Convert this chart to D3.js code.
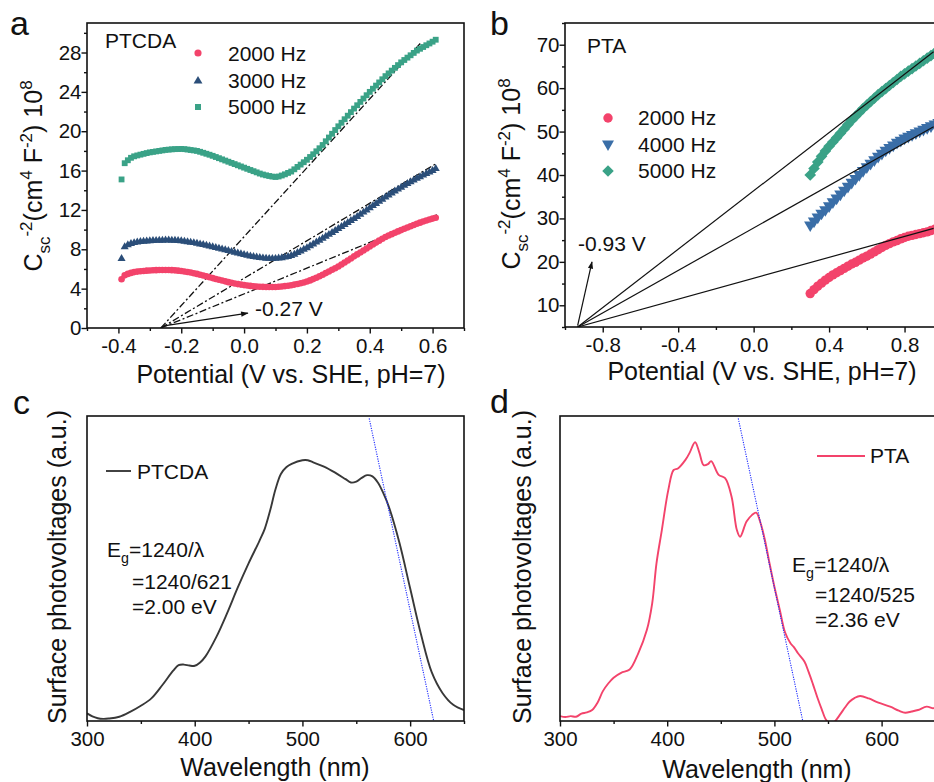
<!DOCTYPE html>
<html>
<head>
<meta charset="utf-8">
<script src="https://cdn.jsdelivr.net/npm/d3@7/dist/d3.min.js"></script>
<style>
  body { margin: 0; background: #fff; }
  svg { display: block; }
</style>
</head>
<body>
<svg id="chart" width="934" height="782"></svg>
<script>
// ── data: panel a (PTCDA Mott-Schottky) ────────────────────────────────
var potentialA = [-0.39,-0.38,-0.37,-0.36,-0.35,-0.34,-0.33,-0.32,-0.31,-0.30,
  -0.29,-0.28,-0.27,-0.26,-0.25,-0.24,-0.23,-0.22,-0.21,-0.20,
  -0.19,-0.18,-0.17,-0.16,-0.15,-0.14,-0.13,-0.12,-0.11,-0.10,
  -0.09,-0.08,-0.07,-0.06,-0.05,-0.04,-0.03,-0.02,-0.01,0.00,
  0.01,0.02,0.03,0.04,0.05,0.06,0.07,0.08,0.09,0.10,
  0.11,0.12,0.13,0.14,0.15,0.16,0.17,0.18,0.19,0.20,
  0.21,0.22,0.23,0.24,0.25,0.26,0.27,0.28,0.29,0.30,
  0.31,0.32,0.33,0.34,0.35,0.36,0.37,0.38,0.39,0.40,
  0.41,0.42,0.43,0.44,0.45,0.46,0.47,0.48,0.49,0.50,
  0.51,0.52,0.53,0.54,0.55,0.56,0.57,0.58,0.59,0.60,0.61];
var ptcda2000 = [4.95,5.35,5.50,5.60,5.68,5.73,5.77,5.80,5.83,5.85,
  5.87,5.88,5.89,5.90,5.90,5.89,5.88,5.86,5.83,5.80,
  5.75,5.70,5.64,5.57,5.50,5.42,5.34,5.25,5.16,5.07,
  4.98,4.90,4.82,4.74,4.66,4.59,4.52,4.46,4.41,4.36,
  4.32,4.28,4.25,4.22,4.20,4.18,4.17,4.16,4.16,4.17,
  4.19,4.22,4.26,4.30,4.35,4.41,4.48,4.55,4.63,4.72,
  4.84,4.97,5.11,5.26,5.42,5.58,5.75,5.92,6.08,6.25,
  6.45,6.65,6.86,7.07,7.28,7.48,7.68,7.88,8.08,8.28,
  8.48,8.68,8.88,9.07,9.25,9.40,9.54,9.68,9.82,9.95,
  10.08,10.21,10.34,10.47,10.60,10.71,10.82,10.92,11.02,11.12,11.20];
var ptcda3000 = [7.05,8.25,8.45,8.58,8.66,8.72,8.77,8.80,8.83,8.85,
  8.87,8.89,8.90,8.91,8.92,8.92,8.91,8.90,8.88,8.85,
  8.81,8.76,8.71,8.66,8.60,8.53,8.46,8.39,8.32,8.25,
  8.17,8.09,8.01,7.93,7.85,7.77,7.69,7.61,7.53,7.45,
  7.38,7.31,7.25,7.20,7.15,7.11,7.08,7.06,7.05,7.06,
  7.09,7.13,7.19,7.26,7.35,7.49,7.65,7.81,7.98,8.15,
  8.34,8.53,8.72,8.91,9.10,9.30,9.50,9.70,9.90,10.10,
  10.30,10.50,10.70,10.90,11.10,11.32,11.54,11.76,11.98,12.20,
  12.42,12.64,12.86,13.08,13.30,13.50,13.70,13.90,14.10,14.30,
  14.48,14.66,14.84,15.02,15.20,15.36,15.52,15.68,15.84,16.00,16.20];
var ptcda5000 = [15.10,16.75,17.05,17.30,17.45,17.54,17.62,17.70,17.78,17.85,
  17.90,17.95,18.00,18.05,18.10,18.13,18.16,18.18,18.19,18.20,
  18.18,18.14,18.09,18.05,18.00,17.91,17.81,17.71,17.61,17.50,
  17.38,17.26,17.14,17.02,16.90,16.78,16.66,16.54,16.42,16.30,
  16.18,16.06,15.94,15.82,15.70,15.60,15.52,15.45,15.39,15.35,
  15.40,15.50,15.62,15.76,15.90,16.13,16.37,16.61,16.85,17.10,
  17.38,17.66,17.96,18.27,18.60,18.98,19.36,19.74,20.12,20.50,
  20.86,21.22,21.58,21.94,22.30,22.64,22.98,23.32,23.66,24.00,
  24.32,24.64,24.96,25.28,25.60,25.88,26.16,26.44,26.72,27.00,
  27.24,27.48,27.72,27.96,28.20,28.38,28.56,28.74,28.92,29.10,29.30];
var fbA = -0.265;                                   // flat-band intercept
var fitEndA = [[0.566, 29.1], [0.614, 16.76], [0.614, 11.5]];

// ── data: panel b (PTA Mott-Schottky) ──────────────────────────────────
var potentialB = [0.30,0.32,0.34,0.36,0.38,0.40,0.42,0.44,0.46,0.48,
  0.50,0.52,0.54,0.56,0.58,0.60,0.62,0.64,0.66,0.68,
  0.70,0.72,0.74,0.76,0.78,0.80,0.82,0.84,0.86,0.88,
  0.90,0.92,0.94,0.96,0.98];
var pta2000 = [12.7,13.6,14.4,15.1,15.8,16.4,17.0,17.5,18.0,18.5,
  19.0,19.5,19.9,20.4,20.9,21.3,21.8,22.3,22.8,23.3,
  23.8,24.2,24.6,24.9,25.3,25.6,25.9,26.1,26.3,26.5,
  26.7,26.9,27.2,27.5,27.8];
var pta4000 = [28.5,29.4,30.3,31.2,32.0,32.9,33.8,34.7,35.6,36.5,
  37.4,38.3,39.2,40.1,41.0,41.9,42.7,43.5,44.3,45.0,
  45.7,46.3,46.9,47.5,48.0,48.5,48.9,49.3,49.7,50.1,
  50.5,50.9,51.3,51.7,52.1];
var pta5000 = [40.0,41.5,43.0,44.3,45.5,46.6,47.6,48.6,49.6,50.6,
  51.6,52.6,53.5,54.4,55.3,56.1,56.9,57.7,58.5,59.2,
  59.9,60.6,61.3,62.0,62.7,63.3,63.9,64.5,65.1,65.7,
  66.3,66.9,67.5,68.1,68.6];
var fbB = [-0.933, 5];
var fitEndB = [[0.954, 68.4], [0.954, 51.1], [0.954, 27.7]];

// ── data: panel c / d (surface photovoltage spectra) ───────────────────
var waveC = [300,305,310,315,320,330,340,350,360,370,380,385,390,395,400,405,410,420,430,440,
  450,460,465,470,475,480,485,490,500,505,510,520,530,540,545,550,555,560,565,570,
  575,580,590,600,610,620,630,640,650];
var spvC = [0.025,0.015,0.009,0.007,0.008,0.014,0.030,0.050,0.075,0.118,0.165,0.183,0.185,0.182,0.181,0.192,0.212,0.275,0.353,0.438,
  0.517,0.590,0.630,0.690,0.760,0.810,0.832,0.843,0.855,0.855,0.848,0.834,0.815,0.793,0.782,0.785,0.797,0.806,0.802,0.782,
  0.748,0.705,0.585,0.435,0.285,0.160,0.092,0.053,0.036];
var tangentC = [[562, 0.992], [621.7, 0.003]];

var waveD = [300,305,310,315,320,325,330,335,340,345,350,357,365,373,381,386,390,395,401,406,
  410,417,421,426,430,434,438,441,448,454,460,465,468,474,479,483,487,491,495,500,
  505,510,515,518,522,528,532,536,540,544,548,552,556,561,566,570,575,580,588,597,
  608,616,622,628,634,642,648,650];
var spvD = [0.016,0.013,0.016,0.014,0.024,0.028,0.036,0.060,0.098,0.123,0.142,0.158,0.169,0.222,0.298,0.386,0.517,0.626,0.757,0.823,
  0.828,0.856,0.880,0.914,0.880,0.839,0.842,0.852,0.807,0.796,0.736,0.626,0.604,0.654,0.675,0.683,0.650,0.596,0.525,0.440,
  0.365,0.290,0.255,0.243,0.222,0.195,0.160,0.120,0.078,0.040,0.005,-0.010,-0.003,0.020,0.045,0.063,0.076,0.082,0.074,0.060,
  0.047,0.034,0.027,0.031,0.036,0.047,0.042,0.043];
var tangentD = [[466.3, 0.992], [526.3, 0.003]];

// ── style ──────────────────────────────────────────────────────────────
var FONT = 'Liberation Sans, Arial, sans-serif';
var INK = '#111';
var RED = '#f3436b', NAVY = '#2b4e79', TEAL = '#3aa287', BLUE = '#3a6ea7';

var svg = d3.select('#chart');
var defs = svg.append('defs');
defs.append('marker')
  .attr('id', 'arr').attr('viewBox', '0 -4 10 8')
  .attr('refX', 9).attr('refY', 0)
  .attr('markerWidth', 9).attr('markerHeight', 6)
  .attr('markerUnits', 'userSpaceOnUse')
  .attr('orient', 'auto')
  .append('path').attr('d', 'M0,-3.5L10,0L0,3.5Z').attr('fill', INK);

// ── helpers ────────────────────────────────────────────────────────────
function panel(id, x0, y0, w, h) {
  var g = svg.append('g').attr('transform', 'translate(' + x0 + ',' + y0 + ')');
  defs.append('clipPath').attr('id', 'clip-' + id)
    .append('rect').attr('width', w).attr('height', h);
  var plot = g.append('g').attr('clip-path', 'url(#clip-' + id + ')');
  return { g: g, plot: plot, w: w, h: h };
}

function styleAxis(sel) {
  sel.select('.domain').remove();
  sel.selectAll('.tick line').attr('stroke', INK).attr('stroke-width', 1.4);
  sel.selectAll('.tick text').attr('fill', INK)
    .attr('font-family', FONT).attr('font-size', '20.5px');
}

function xAxis(p, x, major, minor, fmt) {
  p.g.append('g').attr('transform', 'translate(0,' + p.h + ')')
    .call(d3.axisBottom(x).tickValues(minor).tickSize(3).tickFormat(''))
    .call(styleAxis);
  p.g.append('g').attr('transform', 'translate(0,' + p.h + ')')
    .call(d3.axisBottom(x).tickValues(major).tickSize(5.5).tickPadding(5).tickFormat(fmt))
    .call(styleAxis);
}

function yAxis(p, y, major, minor) {
  p.g.append('g')
    .call(d3.axisLeft(y).tickValues(minor).tickSize(3).tickFormat(''))
    .call(styleAxis);
  p.g.append('g')
    .call(d3.axisLeft(y).tickValues(major).tickSize(5.5).tickPadding(0).tickFormat(d3.format('d')))
    .call(styleAxis);
}

function frame(p) {
  p.g.append('rect').attr('width', p.w).attr('height', p.h)
    .attr('fill', 'none').attr('stroke', INK).attr('stroke-width', 1.6);
}

function label(x, y, txt, size, anchor) {
  return svg.append('text').attr('x', x).attr('y', y)
    .attr('font-family', FONT).attr('font-size', (size || 21) + 'px')
    .attr('fill', INK).attr('text-anchor', anchor || 'start').text(txt);
}

// text with sub/superscript pieces: [text, kind]
function richText(el, parts, size) {
  var small = size * 0.68, shift = 0;
  parts.forEach(function (pt) {
    var target = pt[1] === 'sub' ? size * 0.3 : pt[1] === 'sup' ? -size * 0.4 : 0;
    el.append('tspan').attr('dy', target - shift)
      .attr('font-size', (pt[1] ? small : size) + 'px').text(pt[0]);
    shift = target;
  });
}

function cscTitle(x, y) {
  var t = svg.append('text')
    .attr('transform', 'translate(' + x + ',' + y + ') rotate(-90)')
    .attr('text-anchor', 'middle').attr('font-family', FONT).attr('fill', INK);
  richText(t, [['C'], ['sc', 'sub'], ['-2', 'sup'], ['(cm'], ['4', 'sup'], [' F'], ['-2', 'sup'],
               [') 10'], ['8', 'sup']], 25);
}

function spvTitle(x, y) {
  svg.append('text')
    .attr('transform', 'translate(' + x + ',' + y + ') rotate(-90)')
    .attr('text-anchor', 'middle').attr('font-family', FONT)
    .attr('font-size', '25px').attr('fill', INK)
    .text('Surface photovoltages (a.u.)');
}

function scatter(p, x, y, xs, ys, shape, size, color, rot) {
  var sym = d3.symbol().type(shape).size(size)();
  p.plot.append('g').selectAll('path').data(xs).join('path')
    .attr('d', sym)
    .attr('transform', function (d, i) {
      return 'translate(' + x(d) + ',' + y(ys[i]) + ')' + (rot ? ' rotate(' + rot + ')' : '');
    })
    .attr('fill', color);
}

function legendSym(x, y, shape, size, color, rot) {
  svg.append('path').attr('d', d3.symbol().type(shape).size(size)())
    .attr('transform', 'translate(' + x + ',' + y + ')' + (rot ? ' rotate(' + rot + ')' : ''))
    .attr('fill', color);
}

var fmt1 = function (d) { return d.toFixed(1); };

// ── panel a ────────────────────────────────────────────────────────────
var pa = panel('a', 87, 23, 377, 305);
var xa = d3.scaleLinear().domain([-0.5, 0.7]).range([0, pa.w]);
var ya = d3.scaleLinear().domain([0, 31]).range([pa.h, 0]);

fitEndA.forEach(function (e) {
  pa.plot.append('line')
    .attr('x1', xa(fbA)).attr('y1', ya(0)).attr('x2', xa(e[0])).attr('y2', ya(e[1]))
    .attr('stroke', INK).attr('stroke-width', 1.3).attr('stroke-dasharray', '7,2.5,2,2.5');
});
scatter(pa, xa, ya, potentialA, ptcda5000, d3.symbolSquare, 34, TEAL);
scatter(pa, xa, ya, potentialA, ptcda3000, d3.symbolTriangle, 28, NAVY);
scatter(pa, xa, ya, potentialA, ptcda2000, d3.symbolCircle, 34, RED);
pa.g.append('line')
  .attr('x1', xa(-0.25)).attr('y1', ya(0.25)).attr('x2', xa(0.012)).attr('y2', ya(1.52))
  .attr('stroke', INK).attr('stroke-width', 1.3).attr('marker-end', 'url(#arr)');

frame(pa);
xAxis(pa, xa, [-0.4, -0.2, 0, 0.2, 0.4, 0.6], [-0.5, -0.3, -0.1, 0.1, 0.3, 0.5, 0.7], fmt1);
yAxis(pa, ya, d3.range(0, 29, 4), d3.range(2, 31, 4));

label(255, 316, '-0.27 V');
label(105, 48, 'PTCDA');
legendSym(198, 53, d3.symbolCircle, 40, RED);
legendSym(198, 81, d3.symbolTriangle, 34, NAVY);
legendSym(198, 107, d3.symbolSquare, 36, TEAL);
label(228, 60.5, '2000 Hz');
label(228, 87.5, '3000 Hz');
label(228, 114, '5000 Hz');
label(291, 383, 'Potential (V vs. SHE, pH=7)', 25, 'middle');
cscTitle(42, 176);
label(10, 35, 'a', 34);

// ── panel b ────────────────────────────────────────────────────────────
var pb = panel('b', 565, 23, 415, 304);
var xb = d3.scaleLinear().domain([-1.0, 1.2]).range([0, pb.w]);
var yb = d3.scaleLinear().domain([5, 75]).range([pb.h, 0]);

scatter(pb, xb, yb, potentialB, pta2000, d3.symbolCircle, 70, RED);
scatter(pb, xb, yb, potentialB, pta4000, d3.symbolTriangle, 66, BLUE, 180);
scatter(pb, xb, yb, potentialB, pta5000, d3.symbolSquare, 68, TEAL, 45);
fitEndB.forEach(function (e) {
  pb.plot.append('line')
    .attr('x1', xb(fbB[0])).attr('y1', yb(fbB[1])).attr('x2', xb(e[0])).attr('y2', yb(e[1]))
    .attr('stroke', INK).attr('stroke-width', 1.2);
});
pb.g.append('line')
  .attr('x1', xb(-0.933)).attr('y1', yb(5.3)).attr('x2', xb(-0.857)).attr('y2', yb(20.0))
  .attr('stroke', INK).attr('stroke-width', 1.2).attr('marker-end', 'url(#arr)');

frame(pb);
xAxis(pb, xb, [-0.8, -0.4, 0, 0.4, 0.8], [-1.0, -0.6, -0.2, 0.2, 0.6, 1.0], fmt1);
yAxis(pb, yb, d3.range(10, 71, 10), d3.range(5, 76, 10));

label(578, 251, '-0.93 V');
label(587, 53, 'PTA');
legendSym(608, 118, d3.symbolCircle, 70, RED);
legendSym(608, 144, d3.symbolTriangle, 62, BLUE, 180);
legendSym(608, 171, d3.symbolSquare, 66, TEAL, 45);
label(638, 125, '2000 Hz');
label(638, 151.5, '4000 Hz');
label(638, 177.5, '5000 Hz');
label(762, 380, 'Potential (V vs. SHE, pH=7)', 25, 'middle');
cscTitle(520, 174);
label(490, 35, 'b', 34);

// ── panel c ────────────────────────────────────────────────────────────
var pc = panel('c', 87, 416, 377, 305);
var xc = d3.scaleLinear().domain([300, 650]).range([0, pc.w]);
var yc = d3.scaleLinear().domain([0, 1]).range([pc.h, 0]);
var lineC = d3.line().x(function (d) { return xc(d[0]); }).y(function (d) { return yc(d[1]); })
  .curve(d3.curveCatmullRom);

pc.plot.append('path').datum(d3.zip(waveC, spvC)).attr('d', lineC)
  .attr('fill', 'none').attr('stroke', '#383838').attr('stroke-width', 1.9);
pc.plot.append('path').datum(tangentC).attr('d', lineC.curve(d3.curveLinear))
  .attr('fill', 'none').attr('stroke', '#1f2cff').attr('stroke-width', 1.1)
  .attr('stroke-dasharray', '1.2,1.2');

frame(pc);
xAxis(pc, xc, [300, 400, 500, 600], [350, 450, 550, 650], d3.format('d'));
svg.append('line').attr('x1', 106).attr('x2', 131).attr('y1', 471).attr('y2', 471)
  .attr('stroke', '#383838').attr('stroke-width', 1.9);
label(137, 479, 'PTCDA');
var egc = label(107, 557, '');
richText(egc, [['E'], ['g', 'sub'], ['=1240/\u03bb']], 21);
label(132, 589, '=1240/621');
label(132, 614, '=2.00 eV');
label(275, 776, 'Wavelength (nm)', 25, 'middle');
spvTitle(66, 567);
label(13, 414, 'c', 34);

// ── panel d ────────────────────────────────────────────────────────────
var pd = panel('d', 560, 416, 375.2, 305);
var xd = d3.scaleLinear().domain([300, 650]).range([0, pd.w]);
var yd = d3.scaleLinear().domain([0, 1]).range([pd.h, 0]);
var lineD = d3.line().x(function (d) { return xd(d[0]); }).y(function (d) { return yd(d[1]); })
  .curve(d3.curveCatmullRom);

pd.plot.append('path').datum(d3.zip(waveD, spvD)).attr('d', lineD)
  .attr('fill', 'none').attr('stroke', RED).attr('stroke-width', 1.9);
pd.plot.append('path').datum(tangentD).attr('d', lineD.curve(d3.curveLinear))
  .attr('fill', 'none').attr('stroke', '#1f2cff').attr('stroke-width', 1.1)
  .attr('stroke-dasharray', '1.2,1.2');

frame(pd);
xAxis(pd, xd, [300, 400, 500, 600], [350, 450, 550, 650], d3.format('d'));
svg.append('line').attr('x1', 817).attr('x2', 865).attr('y1', 456).attr('y2', 456)
  .attr('stroke', RED).attr('stroke-width', 1.9);
label(870, 462.5, 'PTA');
var egd = label(792, 571.5, '');
richText(egd, [['E'], ['g', 'sub'], ['=1240/\u03bb']], 21);
label(815, 602, '=1240/525');
label(815, 627, '=2.36 eV');
label(757, 778, 'Wavelength (nm)', 25, 'middle');
spvTitle(531, 567);
label(490, 413, 'd', 34);
</script>
</body>
</html>
